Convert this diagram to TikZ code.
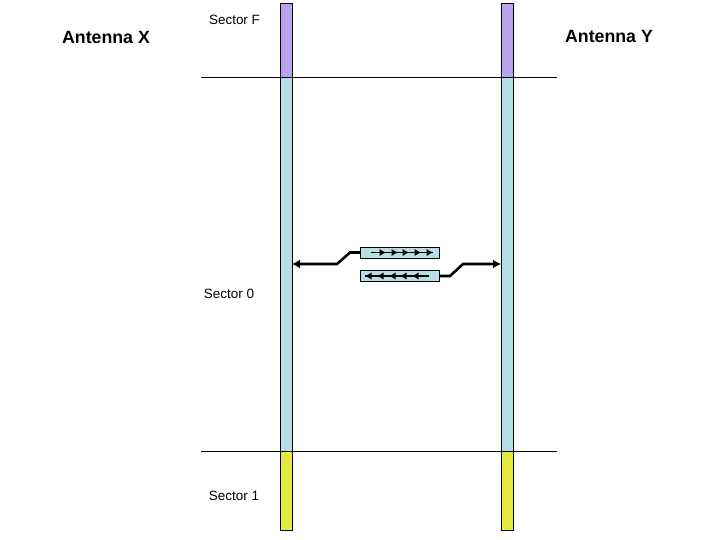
\documentclass[tikz,border=0pt]{standalone}
\usepackage{fontspec}
\setmainfont{Liberation Sans}
\usetikzlibrary{arrows.meta}
\definecolor{secF}{RGB}{184,164,238}
\definecolor{secO}{RGB}{182,222,228}
\definecolor{secI}{RGB}{228,234,62}
\tikzset{
  seg/.style={draw=black, line width=0.9bp, inner sep=0pt, outer sep=0pt},
  pkt/.style={draw=black, line width=0.9bp, fill=secO, minimum width=79bp, minimum height=11bp, inner sep=0pt, outer sep=0pt},
  conn/.style={line width=2.6bp, -{Latex[length=8bp,width=9bp]}},
  flow/.style={line width=1.8bp},
  fhead/.style={line width=1.8bp, -{Latex[length=6.5bp,width=7.5bp]}},
  seclabel/.style={font=\fontsize{13.5}{16}\selectfont, inner sep=0pt},
  antlabel/.style={font=\fontsize{17.8}{20}\selectfont\bfseries, inner sep=0pt},
  divider/.style={line width=0.8bp}
}
\begin{document}
\begin{tikzpicture}[x=1bp,y=-1bp]
\useasboundingbox (0,0) rectangle (720,540);
\fill[white] (0,0) rectangle (720,540);
% divider lines
\coordinate (d1l) at (201,77); \coordinate (d1r) at (557,77);
\coordinate (d2l) at (201,451); \coordinate (d2r) at (557,451);
\draw[divider] (d1l) -- (d1r);
\draw[divider] (d2l) -- (d2r);
% antenna X bar
\draw[seg, fill=secF] (280,3) rectangle (292,77);
\draw[seg, fill=secO] (280,77) rectangle (292,451);
\draw[seg, fill=secI] (280,451) rectangle (292,530);
% antenna Y bar
\draw[seg, fill=secF] (501,3) rectangle (513,77);
\draw[seg, fill=secO] (501,77) rectangle (513,451);
\draw[seg, fill=secI] (501,451) rectangle (513,530);
\coordinate (xbar) at (292,264);
\coordinate (ybar) at (501,264);
% packets
\node[pkt] (up) at (399.5,252.5) {};
\node[pkt] (lo) at (399.5,276) {};
% inner flow arrows
\draw[flow] (371,252.5) -- (433,252.5);
\foreach \t in {386,398,409,421,433}{
  \draw[fhead] (\t-6,252.5) -- (\t,252.5);
}
\draw[flow] (429,276) -- (365,276);
\foreach \t in {365,377,389,400,412}{
  \draw[fhead] (\t+6,276) -- (\t,276);
}
% connectors
\draw[conn] (up.west) -- (350,252.5) -- (337,264) -- (xbar);
\draw[conn] (lo.east) -- (450,276) -- (463,264) -- (ybar);
% labels
\node[antlabel] (ax) at (106,37) {Antenna X};
\node[antlabel] (ay) at (609,36) {Antenna Y};
\node[seclabel] (sf) at (234.5,20) {Sector F};
\node[seclabel] (s0) at (229,294) {Sector 0};
\node[seclabel] (s1) at (234,496) {Sector 1};
\end{tikzpicture}
\end{document}
